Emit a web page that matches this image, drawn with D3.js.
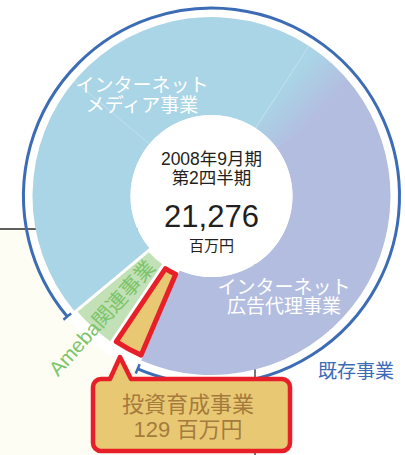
<!DOCTYPE html>
<html>
<head>
<meta charset="utf-8">
<script src="https://cdn.jsdelivr.net/npm/d3@7/dist/d3.min.js"></script>
<style>
  html, body { margin: 0; padding: 0; background: #fff; }
  svg { display: block; }
  text { font-family: "Liberation Sans", "Noto Sans CJK JP", sans-serif; }
</style>
</head>
<body>
<svg id="chart"></svg>
<script>
// segments in drawing order, clockwise from the upper right
const categories = ['ad', 'invest', 'ameba', 'media']
const segmentNames = ['インターネット広告代理事業', '投資育成事業', 'Ameba関連事業', 'インターネットメディア事業']
// share of the circle as drawn in the picture (percent); the small slice is enlarged there
const drawnShare = [41.7, 3.0, 4.5, 50.8]
const periodLines = ['2008年9月期', '第2四半期']
const totalValue = 21276
const investValue = 129
const unitLabel = '百万円'
const mediaLines = ['インターネット', 'メディア事業']
const adLines = ['インターネット', '広告代理事業']
const existingLabel = '既存事業'

const width = 405, height = 455
const cx = 211.5, cy = 196
const rInner = 81, rOuter = 179, rRing = 188
const deg = Math.PI / 180

const colors = {
    ad: '#b3bde0',
    invest: '#e9c874',
    ameba: '#c3e1b6',
    media: '#a9d5e6'
}

const svg = d3.select('#chart')
    .attr('width', width)
    .attr('height', height)

const defs = svg.append('defs')
const bgLayer = svg.append('g')
const g = svg.append('g').attr('transform', `translate(${cx},${cy})`)
const textLayer = svg.append('g')

// cream panel behind the lower left
bgLayer.append('rect')
    .attr('x', 0).attr('y', 229)
    .attr('width', 255).attr('height', height - 229)
    .attr('fill', '#fdfdf3')

// white halo under the donut
bgLayer.append('circle')
    .attr('cx', cx).attr('cy', cy)
    .attr('r', rRing + 1).attr('fill', '#fff')

// panel edges (over the halo, under the donut)
bgLayer.append('line')
    .attr('x1', 0).attr('x2', 255).attr('y1', 229).attr('y2', 229)
    .attr('stroke', '#2b2b2b').attr('stroke-width', 1.6)
bgLayer.append('line')
    .attr('x1', 255).attr('x2', 255).attr('y1', 229).attr('y2', height)
    .attr('stroke', '#555').attr('stroke-width', 1.6)

const pie = d3.pie()
    .sort(null)
    .value(d => d)
    .startAngle(53 * deg)
    .endAngle(413 * deg)

const slices = pie(drawnShare).map((d, i) => Object.assign(d, { key: categories[i] }))
const byKey = {}
slices.forEach(d => byKey[d.key] = d)

const arcMain = d3.arc().innerRadius(rInner).outerRadius(rOuter)

// fade from media blue into ad purple over the last part of the media slice
const fade = 20 * deg
const media = byKey.media
const fadeStart = media.endAngle - fade
const pt = (a, r) => [Math.sin(a) * r, -Math.cos(a) * r]
const p0 = pt(fadeStart, 130), p1 = pt(media.endAngle, 130)
const grad = defs.append('linearGradient')
    .attr('id', 'fade')
    .attr('gradientUnits', 'userSpaceOnUse')
    .attr('x1', p0[0]).attr('y1', p0[1])
    .attr('x2', p1[0]).attr('y2', p1[1])
grad.append('stop').attr('offset', 0).attr('stop-color', colors.media)
grad.append('stop').attr('offset', 1).attr('stop-color', colors.ad)

// ad and media slices
g.selectAll('path.main')
    .data(slices.filter(d => d.key === 'ad' || d.key === 'media'))
    .enter().append('path')
    .attr('class', 'main')
    .attr('d', d => d.key === 'media'
        ? arcMain({ startAngle: d.startAngle, endAngle: fadeStart })
        : arcMain(d))
    .attr('fill', d => colors[d.key])

g.append('path')
    .attr('d', arcMain({ startAngle: fadeStart - 0.2 * deg, endAngle: media.endAngle + 0.2 * deg }))
    .attr('fill', 'url(#fade)')

// faint division lines inside the media slice
const faint = [310 * deg, fadeStart]
g.selectAll('line.faint')
    .data(faint)
    .enter().append('line')
    .attr('class', 'faint')
    .attr('x1', d => pt(d, rInner)[0]).attr('y1', d => pt(d, rInner)[1])
    .attr('x2', d => pt(d, rOuter)[0]).attr('y2', d => pt(d, rOuter)[1])
    .attr('stroke', '#fff').attr('stroke-opacity', 0.35).attr('stroke-width', 0.8)

// Ameba slice, with white gaps on both sides
const arcAmeba = d3.arc().innerRadius(rInner + 3).outerRadius(rOuter - 2)
    .padAngle(0.06).padRadius(100)
g.append('path')
    .attr('d', arcAmeba(byKey.ameba))
    .attr('fill', colors.ameba)

// investment slice, outlined red
const arcInvest = d3.arc().innerRadius(rInner + 5).outerRadius(rOuter - 5)
    .padAngle(0.045).padRadius(100)
g.append('path')
    .attr('d', arcInvest(byKey.invest))
    .attr('fill', colors.invest)
    .attr('stroke', '#e61f29')
    .attr('stroke-width', 5)
    .attr('stroke-linejoin', 'round')

// centre
g.append('circle').attr('r', rInner).attr('fill', '#fff')

// "existing business" bracket ring: from start of media to end of ad
const ringStart = media.startAngle
const ringEnd = byKey.ad.endAngle + 2 * Math.PI
const ring = d3.path()
ring.arc(0, 0, rRing, ringStart - Math.PI / 2, ringEnd - Math.PI / 2)
g.append('path')
    .attr('d', ring.toString())
    .attr('fill', 'none')
    .attr('stroke', '#3d6cb6')
    .attr('stroke-width', 3)
g.selectAll('line.tick')
    .data([ringStart, ringEnd])
    .enter().append('line')
    .attr('class', 'tick')
    .attr('x1', d => pt(d, rRing - 5)[0]).attr('y1', d => pt(d, rRing - 5)[1])
    .attr('x2', d => pt(d, rRing + 5)[0]).attr('y2', d => pt(d, rRing + 5)[1])
    .attr('stroke', '#3d6cb6')
    .attr('stroke-width', 2.5)

// centre text
const ink = '#231f20'
function lines(arr, x, y0, step, size, color) {
    arr.forEach((t, i) => {
        textLayer.append('text').attr('x', x).attr('y', y0 + i * step)
            .attr('text-anchor', 'middle').attr('font-size', size)
            .attr('fill', color).text(t)
    })
}
lines(periodLines, cx, 164.5, 19, 17.5, ink)
lines([d3.format(',')(totalValue)], cx, 227, 0, 31, ink)
lines([unitLabel], cx, 250.5, 0, 15, ink)

// slice labels
lines(mediaLines, 142, 92, 20, 19, '#fff')
lines(adLines, 284, 294, 19, 19, '#fff')
lines([existingLabel], 356, 378, 0, 19, '#3d6cb6')

// Ameba label, along the slice radius
const amebaMid = (byKey.ameba.startAngle + byKey.ameba.endAngle) / 2
const lp = pt(amebaMid, 164)
textLayer.append('text')
    .attr('transform', `translate(${cx + lp[0]},${cy + lp[1]}) rotate(${amebaMid / deg - 270})`)
    .attr('text-anchor', 'middle').attr('dy', '0.36em')
    .attr('font-size', 20.5).attr('fill', '#7cc46a')
    .text(segmentNames[2])

// callout for the investment slice
const bx0 = 93, bx1 = 290, by0 = 379, by1 = 451, br = 8
const tipX = 120, tipY = 357, baseL = 110, baseR = 131
const co = d3.path()
co.moveTo(bx0 + br, by0)
co.lineTo(baseL, by0)
co.lineTo(tipX, tipY)
co.lineTo(baseR, by0)
co.lineTo(bx1 - br, by0)
co.arcTo(bx1, by0, bx1, by0 + br, br)
co.lineTo(bx1, by1 - br)
co.arcTo(bx1, by1, bx1 - br, by1, br)
co.lineTo(bx0 + br, by1)
co.arcTo(bx0, by1, bx0, by1 - br, br)
co.lineTo(bx0, by0 + br)
co.arcTo(bx0, by0, bx0 + br, by0, br)
co.closePath()
textLayer.append('path')
    .attr('d', co.toString())
    .attr('fill', colors.invest)
    .attr('stroke', '#e61f29')
    .attr('stroke-width', 4.5)
    .attr('stroke-linejoin', 'round')

lines([segmentNames[1], investValue + ' ' + unitLabel], 188, 412, 25, 22, '#a47b3c')
</script>
</body>
</html>
